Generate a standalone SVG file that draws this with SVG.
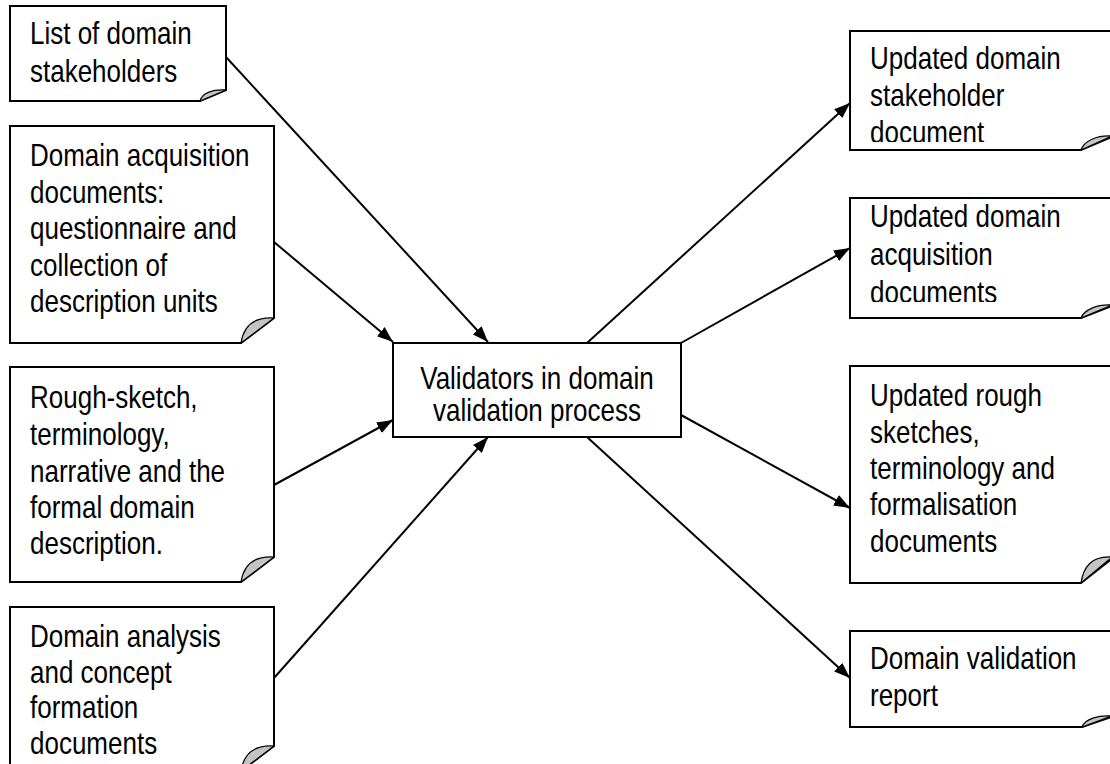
<svg xmlns="http://www.w3.org/2000/svg" width="1110" height="764" viewBox="0 0 1110 764">
<style>
.box{fill:#fff;stroke:#000;stroke-width:2}
.fold{fill:#c4c4c4;stroke:#000;stroke-width:1.2;stroke-linejoin:round}
.t{font-family:"Liberation Sans",Arial,sans-serif;font-size:32px;fill:#000}
.edge{stroke:#000;stroke-width:2;fill:none;marker-end:url(#ah)}
</style>
<defs>
<marker id="ah" viewBox="0 0 16 12" refX="16" refY="6" markerWidth="16" markerHeight="12" markerUnits="userSpaceOnUse" orient="auto">
<path d="M0,0 L16,6 L0,12 z" fill="#000"/>
</marker>
<clipPath id="c1"><rect x="850" y="31" width="262" height="111"/></clipPath>
<clipPath id="c2"><rect x="850" y="198" width="262" height="104"/></clipPath>
</defs>
<rect width="1110" height="764" fill="#fff"/>

<g id="connectors">
<line class="edge" x1="226" y1="57" x2="488" y2="342"/>
<line class="edge" x1="274" y1="242" x2="393" y2="342"/>
<line class="edge" x1="274" y1="485" x2="393" y2="420"/>
<line class="edge" x1="274" y1="678" x2="488" y2="437"/>
<line class="edge" x1="587" y1="343" x2="850" y2="103"/>
<line class="edge" x1="681" y1="343" x2="850" y2="248"/>
<line class="edge" x1="681" y1="415" x2="850" y2="508"/>
<line class="edge" x1="587" y1="437" x2="850" y2="678"/>
</g>

<g id="in1">
<path class="box" d="M10,6 H226 V90 L200,101 H10 Z"/>
<path class="fold" d="M200,101 L226,90 C213,89 202,93 200,101 Z"/>
<g transform="translate(30 0) scale(0.8125 1)"><text class="t" x="0" y="44">List of domain</text><text class="t" x="0" y="82">stakeholders</text></g>
</g>

<g id="in2">
<path class="box" d="M10,126 H274 V318 L241,343 H10 Z"/>
<path class="fold" d="M241,343 L274,318 C258,317 244,323 241,343 Z"/>
<g transform="translate(30 0) scale(0.8125 1)"><text class="t" x="0" y="166">Domain acquisition</text><text class="t" x="0" y="203">documents:</text><text class="t" x="0" y="239">questionnaire and</text><text class="t" x="0" y="276">collection of</text><text class="t" x="0" y="312">description units</text></g>
</g>

<g id="in3">
<path class="box" d="M10,367 H274 V557 L241,582 H10 Z"/>
<path class="fold" d="M241,582 L274,557 C258,556 244,562 241,582 Z"/>
<g transform="translate(30 0) scale(0.8125 1)"><text class="t" x="0" y="408">Rough-sketch,</text><text class="t" x="0" y="445">terminology,</text><text class="t" x="0" y="482">narrative and the</text><text class="t" x="0" y="518">formal domain</text><text class="t" x="0" y="554">description.</text></g>
</g>

<g id="in4">
<path class="box" d="M10,607 H274 V746 L241,771 H10 Z"/>
<path class="fold" d="M241,771 L274,746 C258,745 244,751 241,771 Z"/>
<g transform="translate(30 0) scale(0.8125 1)"><text class="t" x="0" y="647">Domain analysis</text><text class="t" x="0" y="683">and concept</text><text class="t" x="0" y="718">formation</text><text class="t" x="0" y="754">documents</text></g>
</g>

<g id="center">
<rect class="box" x="393" y="343" width="288" height="94"/>
<g transform="translate(537 0) scale(0.8125 1)"><text class="t" x="0" y="389" text-anchor="middle">Validators in domain</text><text class="t" x="0" y="421" text-anchor="middle">validation process</text></g>
</g>

<g id="out1">
<path class="box" d="M850,31 H1114 V136 L1081,150 H850 Z"/>
<path class="fold" d="M1081,150 L1112,136 C1097,135 1084,141 1081,150 Z"/>
<g clip-path="url(#c1)"><g transform="translate(870 0) scale(0.8125 1)"><text class="t" x="0" y="69">Updated domain</text><text class="t" x="0" y="106">stakeholder</text><text class="t" x="0" y="143">document</text></g></g>
</g>

<g id="out2">
<path class="box" d="M850,198 H1114 V305 L1081,318 H850 Z"/>
<path class="fold" d="M1081,318 L1112,305 C1097,304 1084,310 1081,318 Z"/>
<g clip-path="url(#c2)"><g transform="translate(870 0) scale(0.8125 1)"><text class="t" x="0" y="227">Updated domain</text><text class="t" x="0" y="265">acquisition</text><text class="t" x="0" y="303">documents</text></g></g>
</g>

<g id="out3">
<path class="box" d="M850,366 H1114 V557 L1081,583 H850 Z"/>
<path class="fold" d="M1081,583 L1112,557 C1097,556 1084,562 1081,583 Z"/>
<g transform="translate(870 0) scale(0.8125 1)"><text class="t" x="0" y="406">Updated rough</text><text class="t" x="0" y="443">sketches,</text><text class="t" x="0" y="479">terminology and</text><text class="t" x="0" y="515">formalisation</text><text class="t" x="0" y="552">documents</text></g>
</g>

<g id="out4">
<path class="box" d="M850,631 H1114 V716 L1082,727 H850 Z"/>
<path class="fold" d="M1082,727 L1112,716 C1098,715 1085,719 1082,727 Z"/>
<g transform="translate(870 0) scale(0.8125 1)"><text class="t" x="0" y="669">Domain validation</text><text class="t" x="0" y="706">report</text></g>
</g>
</svg>
